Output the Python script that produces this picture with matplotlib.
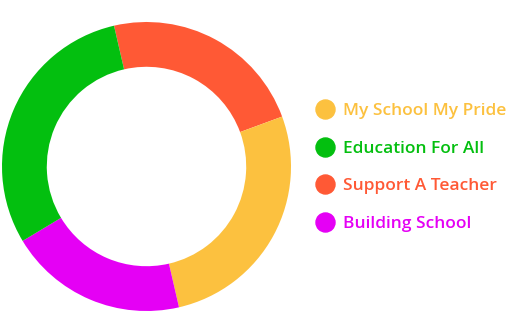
import matplotlib
matplotlib.use("Agg")
from matplotlib import pyplot as plt
from matplotlib.lines import Line2D

# data (legend order)
labels = ["My School My Pride", "Education For All", "Support A Teacher", "Building School"]
values = [27, 30, 23, 20]
colors = ["#FCC13F", "#03BF0F", "#FF5935", "#E500F5"]

# drawing order around the ring, clockwise starting at the top-left boundary
draw_order = [2, 0, 3, 1]

W, H = 511, 330
fig = plt.figure(figsize=(W / 100, H / 100), dpi=100)

cx, cy, r = 146.5, 330 - 166.5, 144.5
ax = fig.add_axes([(cx - r) / W, (cy - r) / H, 2 * r / W, 2 * r / H])
ax.pie([values[i] for i in draw_order],
       colors=[colors[i] for i in draw_order],
       startangle=103, counterclock=False, radius=1,
       wedgeprops=dict(width=0.31, linewidth=0))
ax.set_xlim(-1, 1)
ax.set_ylim(-1, 1)
ax.axis("off")

handles = [Line2D([], [], marker="o", linestyle="none", markersize=13.7,
                  markerfacecolor=c, markeredgecolor=c) for c in colors]
leg = fig.legend(handles, labels, loc="upper left",
                 bbox_to_anchor=(316 / W, 1 - 103 / H), frameon=False,
                 prop=dict(family="Open Sans", weight="semibold", size=12.5),
                 handlelength=1.0, handletextpad=0.55, labelspacing=1.23,
                 borderpad=0, borderaxespad=0)
for t, c in zip(leg.get_texts(), colors):
    t.set_color(c)

fig.savefig("out.png", dpi=100)
